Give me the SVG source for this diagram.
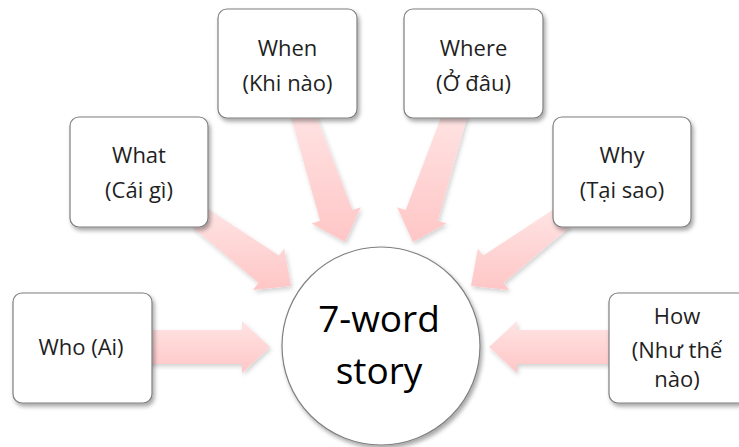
<svg xmlns="http://www.w3.org/2000/svg" width="739" height="447" viewBox="0 0 739 447">
  <defs>
    <linearGradient id="pink" x1="0" y1="0" x2="0" y2="1">
      <stop offset="0" stop-color="#ffe4e4"/>
      <stop offset="1" stop-color="#ffc6c6"/>
    </linearGradient>
    <filter id="shadow" x="-20%" y="-20%" width="140%" height="140%">
      <feDropShadow dx="2" dy="3" stdDeviation="2" flood-color="#000" flood-opacity="0.35"/>
    </filter>
    <filter id="ashadow" x="-20%" y="-20%" width="140%" height="140%">
      <feDropShadow dx="1.5" dy="2.5" stdDeviation="2" flood-color="#000" flood-opacity="0.18"/>
    </filter>
  </defs>
  <style>
    .arrow { fill: url(#pink); filter: url(#ashadow); }
    .box { fill: #ffffff; stroke: #7f7f7f; stroke-width: 1.2; filter: url(#shadow); }
    .lbl { font-family: "Open Sans", "Noto Sans", sans-serif; font-size: 22px; fill: #1f1f1f; text-anchor: middle; }
    .big { font-family: "Open Sans", "Noto Sans", sans-serif; font-size: 37px; fill: #000000; text-anchor: middle; }
  </style>
  <rect width="739" height="447" fill="#ffffff"/>
  <g id="connectors">
    <polygon class="arrow" points="140,330 242,330 242,321 270,347 242,373 242,364 140,364"/>
    <polygon class="arrow" points="620,330 517,330 517,321 489,347 517,373 517,364 620,364"/>
    <polygon class="arrow" points="290.6,115.8 320.1,220.7 311.5,223.6 345,242 360.9,207.2 352.3,210.1 313.4,108.2"/>
    <polygon class="arrow" points="467.4,115.8 437.9,220.7 446.5,223.6 413,242 397.1,207.2 405.7,210.1 444.6,108.2"/>
    <polygon class="arrow" points="192.8,227.6 258.4,282.8 253,290 291,286 284.2,248.4 278.8,255.6 207.2,208.4"/>
    <polygon class="arrow" points="569.2,227.6 503.6,282.8 509,290 471,286 477.8,248.4 483.2,255.6 554.8,208.4"/>
  </g>
  <g id="center">
    <circle class="box" cx="381" cy="346" r="99"/>
    <text class="big" x="379" y="332">7-word</text>
    <text class="big" x="379" y="384">story</text>
  </g>
  <g id="who">
    <rect class="box" x="13" y="293" width="139" height="110" rx="9"/>
    <text class="lbl" x="81" y="355">Who (Ai)</text>
  </g>
  <g id="what">
    <rect class="box" x="70" y="117" width="138" height="110" rx="9"/>
    <text class="lbl" x="139" y="163">What</text>
    <text class="lbl" x="139" y="198">(Cái gì)</text>
  </g>
  <g id="when">
    <rect class="box" x="218" y="9" width="139" height="109" rx="9"/>
    <text class="lbl" x="287.5" y="56">When</text>
    <text class="lbl" x="287.5" y="91">(Khi nào)</text>
  </g>
  <g id="where">
    <rect class="box" x="404" y="9" width="139" height="109" rx="9"/>
    <text class="lbl" x="473.5" y="56">Where</text>
    <text class="lbl" x="473.5" y="91">(Ở đâu)</text>
  </g>
  <g id="why">
    <rect class="box" x="553" y="117" width="138" height="110" rx="9"/>
    <text class="lbl" x="622" y="163">Why</text>
    <text class="lbl" x="622" y="198">(Tại sao)</text>
  </g>
  <g id="how">
    <rect class="box" x="609" y="293" width="139" height="110" rx="9"/>
    <text class="lbl" x="677" y="324">How</text>
    <text class="lbl" x="677" y="358">(Như thế</text>
    <text class="lbl" x="677" y="387">nào)</text>
  </g>
</svg>
